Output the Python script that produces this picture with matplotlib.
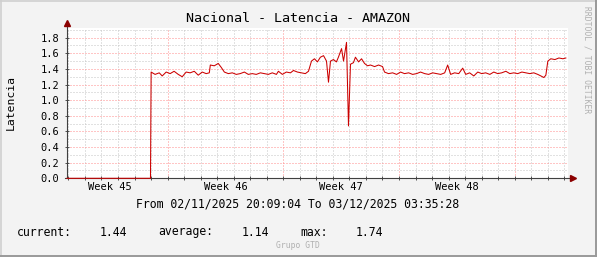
import matplotlib
matplotlib.use('Agg')
import matplotlib.pyplot as plt
from matplotlib.lines import Line2D

W, H = 597, 257

# days since 02/11/2025 20:09:04
days = [0.00, 5.05, 5.09, 5.33, 5.58, 5.76, 6.00, 6.24, 6.48, 6.73, 6.97, 7.21,
        7.45, 7.70, 7.94, 8.18, 8.42, 8.61, 8.67, 8.91, 9.15, 9.33, 9.52, 9.76,
        10.00, 10.24, 10.48, 10.73, 10.97, 11.21, 11.45, 11.70, 11.94, 12.18,
        12.42, 12.67, 12.79, 13.03, 13.27, 13.52, 13.70, 13.94, 14.18, 14.42,
        14.61, 14.79, 14.97, 15.15, 15.33, 15.52, 15.70, 15.82, 15.94, 16.12,
        16.30, 16.42, 16.61, 16.73, 16.91, 17.03, 17.15, 17.33, 17.45, 17.64,
        17.82, 18.00, 18.18, 18.36, 18.61, 18.85, 19.09, 19.21, 19.45, 19.70,
        19.94, 20.18, 20.42, 20.67, 20.91, 21.15, 21.39, 21.64, 21.88, 22.12,
        22.36, 22.61, 22.85, 23.03, 23.21, 23.45, 23.70, 23.94, 24.12, 24.36,
        24.61, 24.85, 25.09, 25.33, 25.58, 25.82, 26.06, 26.30, 26.55, 26.79,
        27.03, 27.27, 27.52, 27.76, 28.00, 28.24, 28.48, 28.67, 28.85, 28.97,
        29.09, 29.27, 29.52, 29.76, 30.00, 30.18]
latencia = [0.00, 0.00, 1.36, 1.33, 1.35, 1.31, 1.36, 1.34, 1.37, 1.33, 1.30, 1.36,
            1.35, 1.37, 1.32, 1.36, 1.34, 1.35, 1.45, 1.44, 1.47, 1.42, 1.36, 1.34,
            1.35, 1.33, 1.34, 1.36, 1.33, 1.34, 1.33, 1.35, 1.34, 1.33,
            1.35, 1.33, 1.37, 1.33, 1.36, 1.35, 1.38, 1.36, 1.35, 1.34,
            1.37, 1.50, 1.53, 1.49, 1.55, 1.57, 1.50, 1.23, 1.50, 1.52,
            1.49, 1.55, 1.66, 1.50, 1.74, 0.67, 1.46, 1.48, 1.55, 1.49,
            1.53, 1.47, 1.44, 1.45, 1.43, 1.45, 1.43, 1.36, 1.34, 1.35,
            1.33, 1.36, 1.34, 1.35, 1.33, 1.34, 1.36, 1.34, 1.33, 1.35,
            1.34, 1.33, 1.35, 1.45, 1.33, 1.35, 1.34, 1.41, 1.33, 1.35,
            1.31, 1.36, 1.34, 1.35, 1.33, 1.36, 1.34, 1.35, 1.37, 1.34,
            1.35, 1.34, 1.36, 1.35, 1.34, 1.35, 1.33, 1.31, 1.29, 1.32,
            1.50, 1.53, 1.52, 1.54, 1.53, 1.54]

span_days = 30.31
first_day_line = 0.085
week_lines = [6.085, 13.085, 20.085, 27.085]
week_labels = ['Week 45', 'Week 46', 'Week 47', 'Week 48']
week_label_pos = [2.585, 9.585, 16.585, 23.585]
y_major = [0.0, 0.2, 0.4, 0.6, 0.8, 1.0, 1.2, 1.4, 1.6, 1.8]
y_top = 1.92

title = 'Nacional - Latencia - AMAZON'
period = 'From 02/11/2025 20:09:04 To 03/12/2025 03:35:28'
stats = [('current:', 17), ('1.44', 100), ('average:', 158), ('1.14', 242),
         ('max:', 300), ('1.74', 356)]

MONO = 'DejaVu Sans Mono'
plt.rcParams['font.family'] = MONO


def fx(px):
    return px / W


def fy(py):
    return 1 - py / H


fig = plt.figure(figsize=(W / 100, H / 100), dpi=100, facecolor='#F3F3F3')
left, right, top, bottom = 67, 568, 28.3, 178.3
ax = fig.add_axes([fx(left), fy(bottom), fx(right - left), (bottom - top) / H])
ax.set_facecolor('white')
ax.set_xlim(0, span_days)
ax.set_ylim(0, y_top)

dot = (0, (1, 2))
gray_grid = '#C4C4C4'
red_grid = '#FF8C8C'
day_lines = [first_day_line + k for k in range(31) if first_day_line + k < span_days]
for d in day_lines:
    if d in week_lines:
        continue
    ax.axvline(d, color=gray_grid, lw=0.72, ls=dot, zorder=1)
for d in week_lines:
    ax.axvline(d, color=red_grid, lw=0.72, ls=dot, zorder=1)
for k in range(1, 20):
    v = k * 0.1
    if v > y_top:
        break
    ax.axhline(v, color=red_grid if k % 2 == 0 else gray_grid, lw=0.72, ls=dot,
               zorder=1)

for s in ax.spines.values():
    s.set_visible(False)

# ticks on the axes
ax.set_xticks(day_lines)
ax.set_xticklabels([])
ax.set_yticks(y_major)
ax.set_yticklabels(['%.1f' % v for v in y_major])
ax.tick_params(axis='x', direction='inout', length=3, width=0.7, color='#505050')
ax.tick_params(axis='y', direction='inout', length=3, width=0.7, color='#505050',
               labelsize=7.5, pad=4, labelcolor='black')

# axis lines with arrows
ax.plot([-0.004, 1.01], [0, 0], transform=ax.transAxes, color='#404040', lw=0.8,
        clip_on=False, zorder=3)
ax.plot([0, 0], [0, 1.03], transform=ax.transAxes, color='#404040', lw=0.8,
        clip_on=False, zorder=3)
ax.plot([1.01], [0], transform=ax.transAxes, marker='>', ms=4.5, color='#8B0000',
        clip_on=False, zorder=4)
ax.plot([0], [1.035], transform=ax.transAxes, marker='^', ms=4.5, color='#8B0000',
        clip_on=False, zorder=4)

ax.plot(days, latencia, color='#CC0000', lw=0.75, zorder=5, clip_on=False)

for lab, pos in zip(week_labels, week_label_pos):
    ax.text(pos, -0.06, lab, transform=ax.get_xaxis_transform(), ha='center',
            va='center', fontsize=7.5)

fig.text(fx(298), fy(19), title, ha='center', va='center', fontsize=9.6)
fig.text(fx(11), fy(103), 'Latencia', ha='center', va='center', rotation=90,
         fontsize=8.2)
fig.text(fx(298), fy(204), period, ha='center', va='center', fontsize=8.3)
for s, px in stats:
    fig.text(fx(px), fy(232), s, ha='left', va='center', fontsize=8.3)
fig.text(fx(298), fy(246), 'Grupo GTD', ha='center', va='center', fontsize=5.8,
         color='#B0B0B0')
fig.text(fx(587), fy(60), 'RRDTOOL / TOBI OETIKER', ha='center', va='center',
         rotation=270, fontsize=5.8, color='#B0B0B0')

# frame shading
fig.add_artist(Line2D([0, 1], [fy(0.5), fy(0.5)], transform=fig.transFigure,
                      color='#D0D0D0', lw=1.2))
fig.add_artist(Line2D([fx(0.5), fx(0.5)], [0, 1], transform=fig.transFigure,
                      color='#D0D0D0', lw=1.2))
fig.add_artist(Line2D([0, 1], [fy(256), fy(256)], transform=fig.transFigure,
                      color='#999999', lw=1.4))
fig.add_artist(Line2D([fx(596), fx(596)], [0, 1], transform=fig.transFigure,
                      color='#999999', lw=1.4))

fig.savefig('out.png', dpi=100, facecolor=fig.get_facecolor())
